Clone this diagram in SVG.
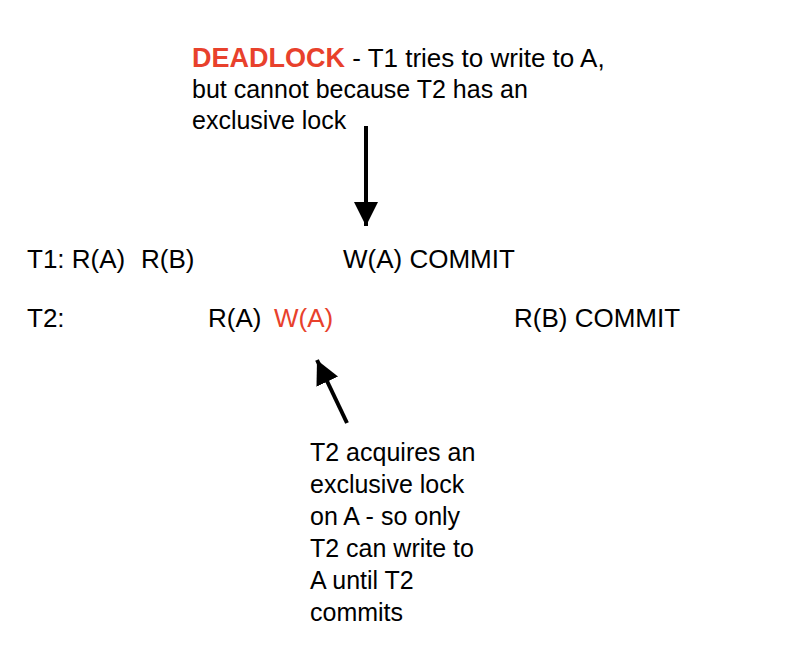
<svg xmlns="http://www.w3.org/2000/svg" width="808" height="654" viewBox="0 0 808 654">
<style>
text{font-family:"Liberation Sans",Arial,Helvetica,sans-serif;fill:#000}
.row{font-size:26px}
.note{font-size:25px}
.red{fill:#E8412C}
.bold{font-weight:bold}
</style>
<defs>
<marker id="ah" viewBox="0 0 10 10" refX="10" refY="5" markerWidth="6" markerHeight="6" markerUnits="strokeWidth" orient="auto">
<path d="M0,0 L10,5 L0,10 Z" fill="#000"/>
</marker>
</defs>
<rect width="808" height="654" fill="#fff"/>
<g id="deadlock-note">
<text class="note" x="192" y="67"><tspan class="red bold" font-size="27" textLength="153" lengthAdjust="spacingAndGlyphs">DEADLOCK</tspan><tspan font-size="26"> - T1 tries to write to A,</tspan></text>
<text class="note" x="192" y="98">but cannot because T2 has an</text>
<text class="note" x="192" y="129">exclusive lock</text>
</g>
<g id="t1-row">
<text class="row" x="27" y="268">T1: R(A)</text>
<text class="row" x="141" y="268">R(B)</text>
<text class="row" x="343" y="268">W(A) COMMIT</text>
</g>
<g id="t2-row">
<text class="row" x="27" y="327">T2:</text>
<text class="row" x="208" y="327">R(A)</text>
<text class="row red" x="274" y="327">W(A)</text>
<text class="row" x="514" y="327">R(B) COMMIT</text>
</g>
<g id="lock-note">
<text class="note" x="310" y="461">T2 acquires an</text>
<text class="note" x="310" y="493">exclusive lock</text>
<text class="note" x="310" y="525">on A - so only</text>
<text class="note" x="310" y="557">T2 can write to</text>
<text class="note" x="310" y="589">A until T2</text>
<text class="note" x="310" y="621">commits</text>
</g>
<g id="connectors" stroke="#000" stroke-width="4" fill="none">
<line x1="366" y1="126" x2="366" y2="226" marker-end="url(#ah)"/>
<line x1="347" y1="423" x2="317" y2="360" marker-end="url(#ah)"/>
</g>
</svg>
